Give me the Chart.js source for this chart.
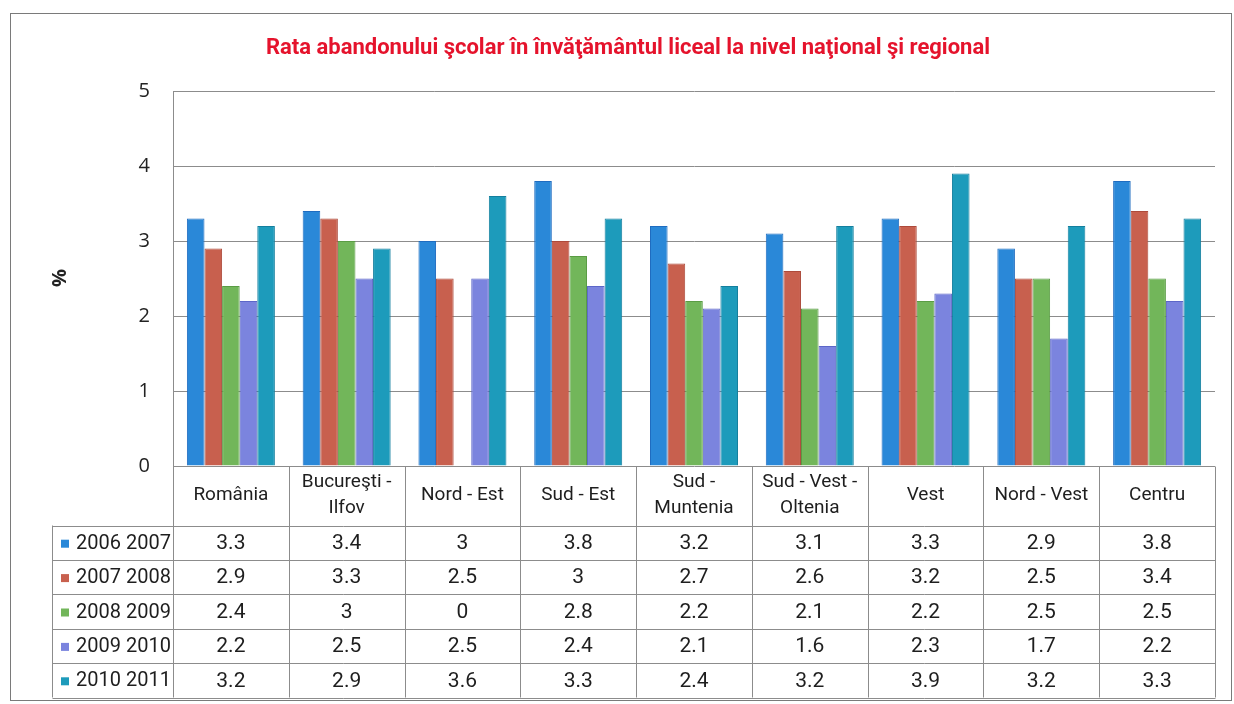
<!DOCTYPE html>
<html>
<head>
<meta charset="utf-8">
<script src="https://cdn.jsdelivr.net/npm/chart.js@4"></script>
<style>
body{margin:0;background:#fff}
#wrap{width:1234px;height:704px;position:relative}
</style>
</head>
<body>
<div id="wrap"><canvas id="myChart"></canvas></div>
<script>
// date
const titlu = 'Rata abandonului şcolar în învăţământul liceal la nivel naţional şi regional';
const regiuni = [['România'], ['Bucureşti -', 'Ilfov'], ['Nord - Est'], ['Sud - Est'], ['Sud -', 'Muntenia'],
  ['Sud - Vest -', 'Oltenia'], ['Vest'], ['Nord - Vest'], ['Centru']];
const ani = ['2006 2007', '2007 2008', '2008 2009', '2009 2010', '2010 2011'];
const an2006 = [3.3, 3.4, 3, 3.8, 3.2, 3.1, 3.3, 2.9, 3.8];
const an2007 = [2.9, 3.3, 2.5, 3, 2.7, 2.6, 3.2, 2.5, 3.4];
const an2008 = [2.4, 3, 0, 2.8, 2.2, 2.1, 2.2, 2.5, 2.5];
const an2009 = [2.2, 2.5, 2.5, 2.4, 2.1, 1.6, 2.3, 1.7, 2.2];
const an2010 = [3.2, 2.9, 3.6, 3.3, 2.4, 3.2, 3.9, 3.2, 3.3];
const yMin = 0, yMax = 5, yPas = 1;

const culori = ['#2a88d8', '#c8604e', '#72b65a', '#7b84de', '#1d9bbb'];
const margini = ['#1f6cc0', '#ad4a3b', '#5a9c44', '#5c66c8', '#147f9e'];
const serii = [an2006, an2007, an2008, an2009, an2010];

const fontIngust = 'Roboto, "Liberation Sans", Arial, sans-serif';
const linie = '#8c8c8c';

const tabel = {
  id: 'tabel',
  afterDraw(chart) {
    const ctx = chart.ctx;
    const x = chart.scales.x;
    const area = chart.chartArea;
    const n = regiuni.length;
    const w = (area.right - area.left) / n;
    const lim = [];
    for (let i = 0; i <= n; i++) lim.push(Math.round(area.left + i * w) + 0.5);

    const sus = Math.round(area.bottom) + 0.5;
    const capJos = sus + 59;
    const rand = 34.4;
    const stanga = 52.5;
    const jos = capJos + rand * ani.length;

    ctx.save();
    // chenar exterior
    ctx.strokeStyle = '#7a7a7a';
    ctx.lineWidth = 1;
    ctx.strokeRect(10.5, 13.5, 1221, 687);

    // titlu
    ctx.fillStyle = '#e5132c';
    ctx.font = 'bold 22px ' + fontIngust;
    ctx.textAlign = 'center';
    ctx.textBaseline = 'middle';
    ctx.fillText(titlu, 628, 48);

    // eticheta axei
    ctx.save();
    ctx.translate(60, 278);
    ctx.rotate(-Math.PI / 2);
    ctx.fillStyle = '#222';
    ctx.font = 'bold 20px "Open Sans", sans-serif';
    ctx.fillText('%', 0, 0);
    ctx.restore();

    // grila tabelului
    ctx.strokeStyle = linie;
    ctx.beginPath();
    lim.forEach(px => { ctx.moveTo(px, sus); ctx.lineTo(px, jos); });
    ctx.moveTo(stanga, capJos); ctx.lineTo(stanga, jos);
    for (let r = 0; r <= ani.length; r++) {
      const py = Math.round(capJos + r * rand) + 0.5;
      ctx.moveTo(stanga, py); ctx.lineTo(lim[n], py);
    }
    ctx.stroke();

    // capul tabelului
    ctx.fillStyle = '#1e1e1e';
    ctx.font = '19px ' + fontIngust;
    regiuni.forEach((lab, i) => {
      const cx = x.getPixelForValue(i);
      const cy = sus + 29;
      if (lab.length === 1) ctx.fillText(lab[0], cx, cy);
      else { ctx.fillText(lab[0], cx, cy - 13); ctx.fillText(lab[1], cx, cy + 13); }
    });

    // randuri cu valori
    serii.forEach((s, r) => {
      const cy = capJos + r * rand + rand / 2 + 1;
      ctx.font = '21px ' + fontIngust;
      s.forEach((v, i) => {
        ctx.fillStyle = '#1e1e1e';
        ctx.textAlign = 'center';
        ctx.fillText(String(v), x.getPixelForValue(i), cy);
      });
      ctx.fillStyle = culori[r];
      ctx.fillRect(61, cy - 4, 8, 8);
      ctx.fillStyle = '#1e1e1e';
      ctx.textAlign = 'left';
      ctx.font = '20px ' + fontIngust;
      ctx.fillText(ani[r], 76, cy);
    });
    ctx.restore();
  }
};

const ctx = document.getElementById('myChart');
new Chart(ctx, {
  type: 'bar',
  data: {
    labels: regiuni.map(r => r.join(' ')),
    datasets: ani.map((a, k) => ({
      label: a,
      data: serii[k],
      backgroundColor: culori[k],
      borderColor: margini[k],
      borderWidth: 1,
      categoryPercentage: 0.76,
      barPercentage: 1.0
    }))
  },
  options: {
    responsive: true,
    maintainAspectRatio: false,
    animation: false,
    layout: { padding: { left: 0, right: 19, top: 91, bottom: 238 } },
    plugins: {
      legend: { display: false },
      title: { display: false },
      tooltip: { enabled: false }
    },
    scales: {
      x: {
        ticks: { display: false },
        grid: { display: false, drawTicks: false },
        border: { display: false },
        afterFit: s => { s.height = 0; }
      },
      y: {
        min: yMin,
        max: yMax,
        ticks: { stepSize: yPas, padding: 23, color: '#222', font: { family: '"Open Sans"', size: 20 } },
        grid: { color: linie, lineWidth: 1, drawTicks: false },
        border: { display: true, color: linie },
        afterFit: s => { s.width = 173; }
      }
    }
  },
  plugins: [tabel]
});
</script>
</body>
</html>
